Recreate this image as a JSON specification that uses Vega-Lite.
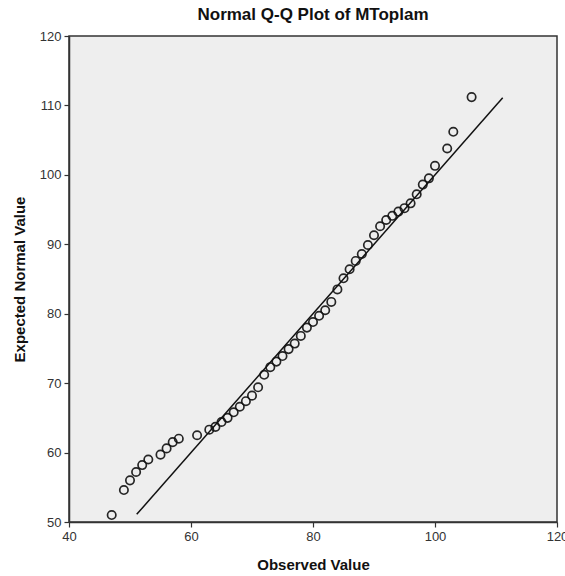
{
  "$schema": "https://vega.github.io/schema/vega-lite/v6.json",
  "autosize": "none",
  "width": 488,
  "height": 486,
  "padding": {"left": 69, "top": 36, "right": 8, "bottom": 54},
  "background": "white",
  "title": {"text": "Normal Q-Q Plot of MToplam", "font": "Liberation Sans", "fontSize": 17, "fontWeight": "bold", "color": "#111", "offset": 6},
  "config": {
    "view": {"fill": "#eeeeee", "stroke": "#333", "strokeWidth": 1.5},
    "axis": {
      "labelFont": "Liberation Sans", "labelFontSize": 13, "labelColor": "#333", "labelFlush": false,
      "titleFont": "Liberation Sans", "titleFontSize": 15, "titleFontWeight": "bold", "titleColor": "#111",
      "domainColor": "#333", "domainWidth": 1.5, "tickColor": "#333", "tickSize": 5, "tickWidth": 1.2, "grid": false
    }
  },
  "datasets": {
    "pts": [
      {"obs": 47, "exp": 51.0}, {"obs": 49, "exp": 54.6}, {"obs": 50, "exp": 56.0}, {"obs": 51, "exp": 57.2},
      {"obs": 52, "exp": 58.2}, {"obs": 53, "exp": 59.0}, {"obs": 55, "exp": 59.7}, {"obs": 56, "exp": 60.6},
      {"obs": 57, "exp": 61.5}, {"obs": 58, "exp": 62.0}, {"obs": 61, "exp": 62.5}, {"obs": 63, "exp": 63.3},
      {"obs": 64, "exp": 63.7}, {"obs": 65, "exp": 64.4}, {"obs": 66, "exp": 65.0}, {"obs": 67, "exp": 65.8},
      {"obs": 68, "exp": 66.6}, {"obs": 69, "exp": 67.4}, {"obs": 70, "exp": 68.2}, {"obs": 71, "exp": 69.4},
      {"obs": 72, "exp": 71.2}, {"obs": 73, "exp": 72.3}, {"obs": 74, "exp": 73.1}, {"obs": 75, "exp": 73.9},
      {"obs": 76, "exp": 74.9}, {"obs": 77, "exp": 75.7}, {"obs": 78, "exp": 76.8}, {"obs": 79, "exp": 78.0},
      {"obs": 80, "exp": 78.8}, {"obs": 81, "exp": 79.7}, {"obs": 82, "exp": 80.5}, {"obs": 83, "exp": 81.7},
      {"obs": 84, "exp": 83.5}, {"obs": 85, "exp": 85.1}, {"obs": 86, "exp": 86.4}, {"obs": 87, "exp": 87.6},
      {"obs": 88, "exp": 88.6}, {"obs": 89, "exp": 89.9}, {"obs": 90, "exp": 91.3}, {"obs": 91, "exp": 92.6},
      {"obs": 92, "exp": 93.5}, {"obs": 93, "exp": 94.1}, {"obs": 94, "exp": 94.7}, {"obs": 95, "exp": 95.2},
      {"obs": 96, "exp": 95.9}, {"obs": 97, "exp": 97.2}, {"obs": 98, "exp": 98.6}, {"obs": 99, "exp": 99.5},
      {"obs": 100, "exp": 101.3}, {"obs": 102, "exp": 103.8}, {"obs": 103, "exp": 106.2}, {"obs": 106, "exp": 111.2}
    ],
    "ref": [
      {"obs": 51.1, "exp": 51.1}, {"obs": 111.1, "exp": 111.1}
    ]
  },
  "layer": [
    {
      "data": {"name": "ref"},
      "mark": {"type": "line", "color": "#111", "strokeWidth": 1.5, "clip": true},
      "encoding": {
        "x": {"field": "obs", "type": "quantitative", "scale": {"domain": [40, 120], "nice": false, "zero": false}, "axis": {"values": [40, 60, 80, 100, 120], "title": "Observed Value", "titlePadding": 14, "labelPadding": 3}},
        "y": {"field": "exp", "type": "quantitative", "scale": {"domain": [50, 120], "nice": false, "zero": false}, "axis": {"values": [50, 60, 70, 80, 90, 100, 110, 120], "title": "Expected Normal Value", "titlePadding": 12, "labelPadding": 3}}
      }
    },
    {
      "data": {"name": "pts"},
      "mark": {"type": "point", "shape": "circle", "filled": false, "stroke": "#111", "strokeWidth": 1.7, "size": 70, "opacity": 0.9},
      "encoding": {
        "x": {"field": "obs", "type": "quantitative"},
        "y": {"field": "exp", "type": "quantitative"}
      }
    }
  ]
}
